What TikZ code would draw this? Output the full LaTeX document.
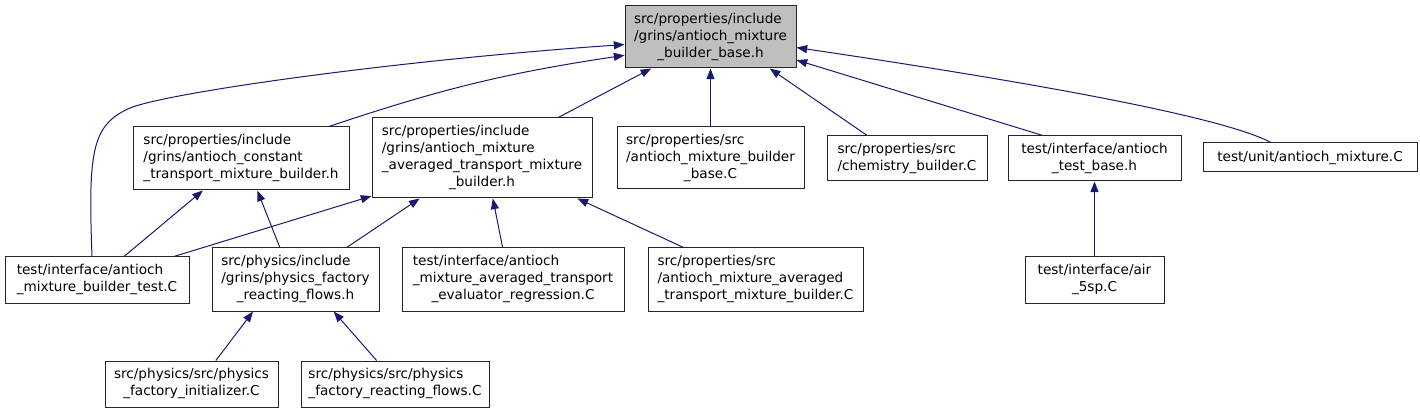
\documentclass[tikz,border=0pt]{standalone}
\usepackage{fontspec}
\setmainfont{DejaVu Sans}
\usetikzlibrary{arrows.meta}
\definecolor{edgeblue}{HTML}{191970}
\definecolor{basegray}{HTML}{BFBFBF}
\newcommand\flines[1]{\begin{tabular}{@{}l@{}}#1\end{tabular}}
\newcommand\lastln[1]{\multicolumn{1}{@{}c@{}}{#1}}

\begin{document}
\begin{tikzpicture}[
  x=0.75pt, y=-0.75pt,
  file/.style={rectangle, draw=black!85, line width=0.75pt, inner sep=0pt, fill=white,
    font=\fontsize{10.2}{12.7}\selectfont},
  px/.style 2 args={minimum width=#1*0.75pt, minimum height=#2*0.75pt},
  dep/.style={edgeblue, line width=0.75pt, -{Triangle[length=8pt,width=6pt]}}
]
\useasboundingbox (0,0) rectangle (1420,413);

\node[file, px={171}{62}, fill=basegray] (base) at (710.5,37) {\flines{src/properties/include\\/grins/antioch\_mixture\\\lastln{\_builder\_base.h}}};

\node[file, px={216}{63}] (const) at (241,158.5) {\flines{src/properties/include\\/grins/antioch\_constant\\\_transport\_mixture\_builder.h}};
\node[file, px={220}{80}] (avg) at (482,158) {\flines{src/properties/include\\/grins/antioch\_mixture\\\_averaged\_transport\_mixture\\\lastln{\_builder.h}}};
\node[file, px={187}{62}] (basec) at (710.5,158) {\flines{src/properties/src\\/antioch\_mixture\_builder\\\lastln{\_base.C}}};
\node[file, px={160}{45}] (chem) at (907,158.5) {\flines{src/properties/src\\/chemistry\_builder.C}};
\node[file, px={173}{45}] (testbase) at (1094.5,158.5) {\flines{test/interface/antioch\\\lastln{\_test\_base.h}}};
\node[file, px={214}{29}] (unit) at (1310,157.5) {test/unit/antioch\_mixture.C};

\node[file, px={184}{46}] (mbtest) at (97,280) {\flines{test/interface/antioch\\\_mixture\_builder\_test.C}};
\node[file, px={167}{63}] (physh) at (295.5,279.5) {\flines{src/physics/include\\/grins/physics\_factory\\\lastln{\_reacting\_flows.h}}};
\node[file, px={222}{63}] (regress) at (513,279.5) {\flines{test/interface/antioch\\\_mixture\_averaged\_transport\\\lastln{\_evaluator\_regression.C}}};
\node[file, px={215}{63}] (avgc) at (755.5,279.5) {\flines{src/properties/src\\/antioch\_mixture\_averaged\\\_transport\_mixture\_builder.C}};
\node[file, px={139}{46}] (air) at (1094.5,280) {\flines{test/interface/air\\\lastln{\_5sp.C}}};

\node[file, px={173}{46}] (init) at (191.5,384) {\flines{src/physics/src/physics\\\lastln{\_factory\_initializer.C}}};
\node[file, px={188}{46}] (reactc) at (395,384) {\flines{src/physics/src/physics\\\_factory\_reacting\_flows.C}};

% includers of the base header
\draw[dep] (mbtest.102) .. controls (88,150) and (92,125) .. (130,108)
  .. controls (170,92) and (400,60) .. (base.185);
\draw[dep] (const.20) to[bend left=5] (base.192);
\draw[dep] (avg.28) -- (base.208);
\draw[dep] (basec.north) -- (base.south);
\draw[dep] (chem.150) -- (base.332);
\draw[dep] (testbase.156) -- (base.345);
\draw[dep] (unit.159) .. controls (1225,118) and (1050,85) .. (base.353);

% second level
\draw[dep] (mbtest.41) -- (const.220);
\draw[dep] (physh.116) -- (const.297);
\draw[dep] (mbtest.17) -- (avg.199);
\draw[dep] (physh.32) -- (avg.213);
\draw[dep] (regress.108) -- (avg.285);
\draw[dep] (avgc.156) -- (avg.337);
\draw[dep] (air.north) -- (testbase.south);

% third level
\draw[dep] (init.44) -- (physh.217);
\draw[dep] (reactc.128) -- (physh.320);
\end{tikzpicture}
\end{document}
